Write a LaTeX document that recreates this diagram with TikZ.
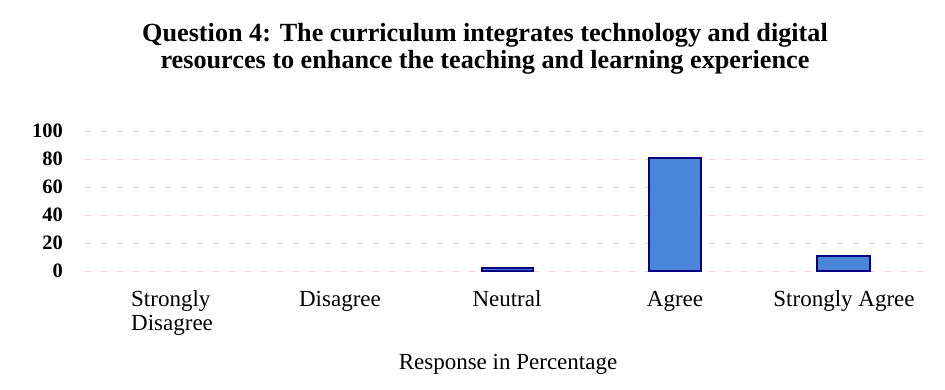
\documentclass[tikz,border=0pt]{standalone}
\usepackage{fontspec}
\setmainfont{Liberation Serif}
\begin{document}
\begin{tikzpicture}[x=1pt,y=-1pt,
  grid/.style={draw=red!20, line width=0.6pt, dash pattern=on 6pt off 10pt},
  bar/.style={draw=blue!50!black, line width=1.2pt, fill={rgb,255:red,74;green,134;blue,216}},
  ticklab/.style={anchor=east, font=\bfseries\fontsize{20.5}{20}\selectfont, inner sep=0pt},
  catlab/.style={anchor=base, font=\fontsize{23}{24}\selectfont, inner sep=0pt},
  titlelab/.style={anchor=base, font=\bfseries\fontsize{26.2}{27}\selectfont, inner sep=0pt}]
\useasboundingbox (0,0) rectangle (945,389);
\fill[white] (0,0) rectangle (945,389);
% title
\node[titlelab] (title1) at (485,41) {Question 4: The curriculum integrates technology and digital};
\node[titlelab] (title2) at (485,68) {resources to enhance the teaching and learning experience};
% grid lines and tick labels
\foreach \v [count=\i] in {0,20,40,60,80,100} {
  \draw[grid] (85,271-1.4*\v) -- (928,271-1.4*\v);
  \node[ticklab] (t\i) at (63,271-1.4*\v) {\v};
}
% bars
\draw[bar] (482,271) rectangle (533,268);
\draw[bar] (649,271) rectangle (701,158);
\draw[bar] (817,271) rectangle (870,256);
% category labels
\node[catlab, anchor=base west] (c1a) at (131,306) {Strongly};
\node[catlab, anchor=base west] (c1b) at (131,330) {Disagree};
\node[catlab] (c2) at (340,306) {Disagree};
\node[catlab] (c3) at (507,306) {Neutral};
\node[catlab] (c4) at (675,306) {Agree};
\node[catlab] (c5) at (844,306) {Strongly Agree};
% axis title
\node[catlab] (xt) at (508,369) {Response in Percentage};
\end{tikzpicture}
\end{document}
